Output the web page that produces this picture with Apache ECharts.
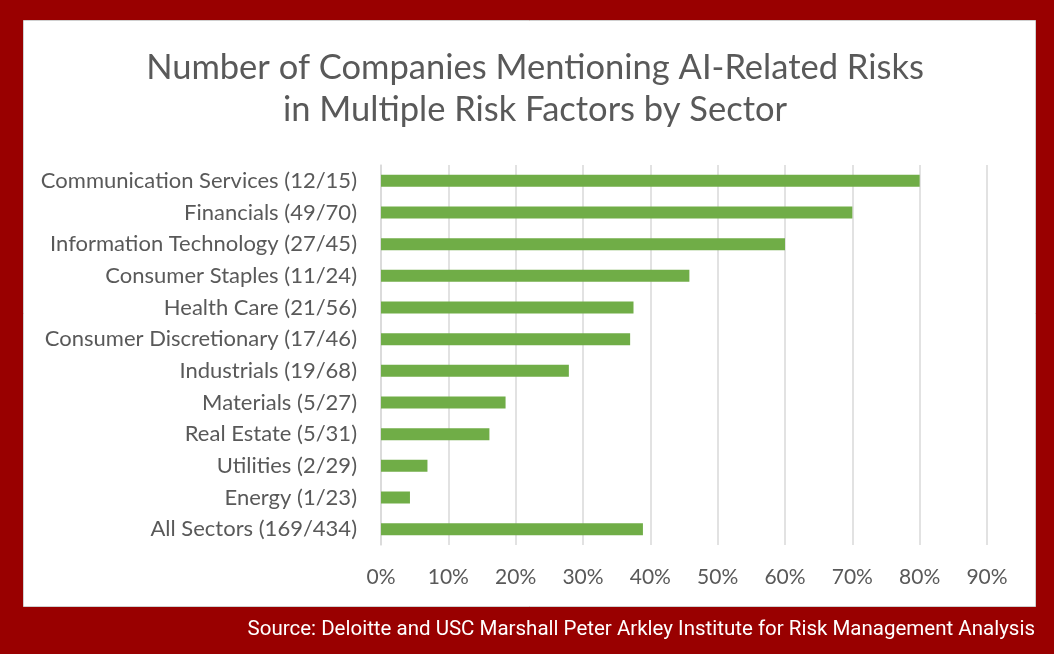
<!DOCTYPE html>
<html>
<head>
<meta charset="utf-8">
<script src="https://cdn.jsdelivr.net/npm/echarts@6/dist/echarts.min.js"></script>
<style>
  html, body { margin: 0; padding: 0; background: #990000; }
  #main { width: 1054px; height: 654px; }
</style>
</head>
<body>
<div id="main"></div>
<script>
var sectors = [
    'Communication Services (12/15)',
    'Financials (49/70)',
    'Information Technology (27/45)',
    'Consumer Staples (11/24)',
    'Health Care (21/56)',
    'Consumer Discretionary (17/46)',
    'Industrials (19/68)',
    'Materials (5/27)',
    'Real Estate (5/31)',
    'Utilities (2/29)',
    'Energy (1/23)',
    'All Sectors (169/434)'
];
// share of companies, in percent
var shares = [80.0, 70.0, 60.0, 45.8, 37.5, 37.0, 27.9, 18.5, 16.1, 6.9, 4.3, 38.9];
var pctTicks = [0, 10, 20, 30, 40, 50, 60, 70, 80, 90];

var chart = echarts.init(document.getElementById('main'));

var option = {
    backgroundColor: '#990000',
    animation: false,
    graphic: [
        {
            type: 'rect',
            z: -10,
            shape: { x: 23.5, y: 20.5, width: 1012, height: 586 },
            style: { fill: '#ffffff', stroke: '#d0d0d0', lineWidth: 1 }
        },
        {
            type: 'text',
            right: 19,
            top: 619,
            style: {
                text: 'Source: Deloitte and USC Marshall Peter Arkley Institute for Risk Management Analysis',
                fill: '#ffffff',
                font: '20.5px Roboto'
            }
        }
    ],
    title: {
        text: 'Number of Companies Mentioning AI-Related Risks\nin Multiple Risk Factors by Sector',
        left: 530,
        top: 42,
        textAlign: 'center',
        textStyle: {
            fontFamily: 'Lato',
            fontWeight: 'normal',
            fontSize: 34.5,
            lineHeight: 42,
            color: '#595959'
        }
    },
    grid: {
        left: 381,
        right: 67,
        top: 165,
        height: 380,
        containLabel: false
    },
    xAxis: {
        type: 'value',
        min: pctTicks[0],
        max: pctTicks[pctTicks.length - 1],
        interval: 10,
        axisLine: { show: false },
        axisTick: { show: false },
        splitLine: { lineStyle: { color: '#d9d9d9', width: 1.5 } },
        axisLabel: {
            formatter: '{value}%',
            margin: 22,
            fontFamily: 'Lato',
            fontSize: 21,
            color: '#595959'
        }
    },
    yAxis: {
        type: 'category',
        inverse: true,
        data: sectors,
        axisLine: { show: true, lineStyle: { color: '#d9d9d9', width: 1.5 } },
        axisTick: { show: false },
        axisLabel: {
            margin: 24,
            fontFamily: 'Lato',
            fontSize: 22,
            color: '#595959'
        }
    },
    series: [
        {
            type: 'bar',
            data: shares,
            barWidth: 12,
            itemStyle: { color: '#70ad47' }
        }
    ]
};

chart.setOption(option);
</script>
</body>
</html>
